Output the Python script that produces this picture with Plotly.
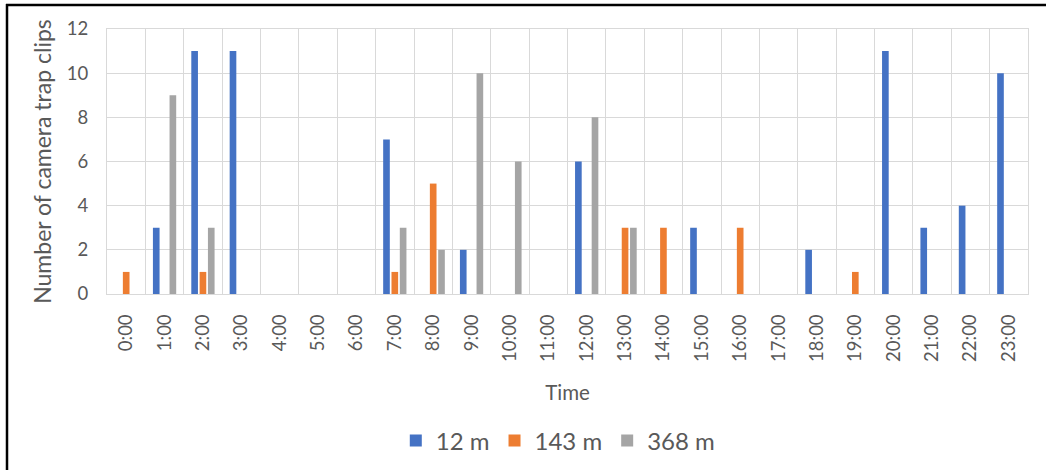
import plotly.graph_objects as go

hours = [f"{h}:00" for h in range(24)]
clips_12m = [0, 3, 11, 11, 0, 0, 0, 7, 0, 2, 0, 0, 6, 0, 0, 3, 0, 0, 2, 0, 11, 3, 4, 10]
clips_143m = [1, 0, 1, 0, 0, 0, 0, 1, 5, 0, 0, 0, 0, 3, 3, 0, 3, 0, 0, 1, 0, 0, 0, 0]
clips_368m = [0, 9, 3, 0, 0, 0, 0, 3, 2, 10, 6, 0, 8, 3, 0, 0, 0, 0, 0, 0, 0, 0, 0, 0]
series = [("12 m", clips_12m, "#4472C4"), ("143 m", clips_143m, "#ED7D31"), ("368 m", clips_368m, "#A5A5A5")]

W, H = 1047, 471
L, R, T, B = 107, 19, 29, 177
pw, ph = W - L - R, H - T - B

fig = go.Figure()
for name, vals, col in series:
    fig.add_trace(go.Bar(x=hours, y=vals, name=name, marker=dict(color=col, line_width=0)))

font = "Lato, 'Open Sans', sans-serif"
fig.update_layout(
    width=W, height=H,
    margin=dict(l=L, r=R, t=T, b=B, autoexpand=False),
    paper_bgcolor="white", plot_bgcolor="white",
    barmode="group", bargap=0.35, bargroupgap=0.2,
    font=dict(family=font, color="#595959", size=18),
    xaxis=dict(
        tickson="boundaries", showgrid=True, gridcolor="#D9D9D9", gridwidth=1,
        showline=True, linecolor="#D9D9D9", mirror=True, ticks="", automargin=False,
        tickangle=-90, tickfont=dict(size=18.5), ticklabelstandoff=12,
        title=dict(text="Time", font=dict(size=20.5), standoff=24),
    ),
    yaxis=dict(
        range=[0, 12], dtick=2, showgrid=True, gridcolor="#D9D9D9", automargin=False,
        showline=True, linecolor="#D9D9D9", mirror=True, ticks="", zeroline=False,
        tickfont=dict(size=18.5), ticklabelstandoff=14,
        title=dict(text="Number of camera trap clips", font=dict(size=23), standoff=8),
    ),
    legend=dict(orientation="h", x=0.49, xanchor="center", y=(294 - 441) / ph, yanchor="middle",
                font=dict(size=24), traceorder="normal", itemwidth=30),
    showlegend=True,
)

# frame along the left and top edges
def px(xp):
    return (xp - L) / pw

def py(yp):
    return (T + ph - yp) / ph

fig.add_shape(type="line", xref="paper", yref="paper", x0=px(7), x1=px(7), y0=py(4), y1=py(H - 1),
              line=dict(color="black", width=2.5))
fig.add_shape(type="line", xref="paper", yref="paper", x0=px(6), x1=px(W - 1), y0=py(5), y1=py(5),
              line=dict(color="black", width=2.5))

fig.write_html("out.html")
